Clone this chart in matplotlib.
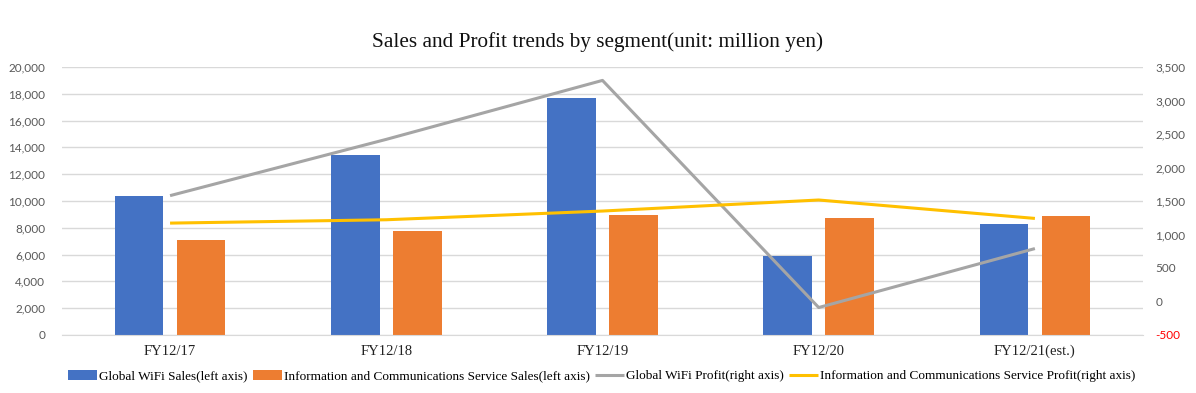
import matplotlib
matplotlib.use("Agg")
import matplotlib.pyplot as plt
import numpy as np
from matplotlib.ticker import FuncFormatter

categories = ["FY12/17", "FY12/18", "FY12/19", "FY12/20", "FY12/21(est.)"]
wifi_sales = [10400, 13450, 17700, 5900, 8300]
ics_sales = [7100, 7760, 8950, 8700, 8880]
wifi_profit = [1580, 2420, 3300, -90, 790]
ics_profit = [1170, 1220, 1350, 1515, 1240]

BLUE, ORANGE, GRAY, YELLOW = "#4472C4", "#ED7D31", "#A5A5A5", "#FFC000"
SERIF = ["Liberation Serif", "DejaVu Serif"]
TICK_FONT = ["Lato", "DejaVu Sans"]

fig = plt.figure(figsize=(11.96, 3.93), dpi=100)
ax = fig.add_axes([0.0518, 0.1476, 0.9039, 0.6819])
ax2 = ax.twinx()

x = np.arange(len(categories))
w = 0.225
ax.bar(x - 0.143, wifi_sales, w, color=BLUE, label="Global WiFi Sales(left axis)", zorder=2)
ax.bar(x + 0.143, ics_sales, w, color=ORANGE,
       label="Information and Communications Service Sales(left axis)", zorder=2)
ax2.plot(x, wifi_profit, color=GRAY, lw=2.2, label="Global WiFi Profit(right axis)", solid_capstyle="butt")
ax2.plot(x, ics_profit, color=YELLOW, lw=2.2,
         label="Information and Communications Service Profit(right axis)", solid_capstyle="butt")

ax.set_xlim(-0.5, len(categories) - 0.5)
ax.set_ylim(0, 20000)
ax.set_yticks(range(0, 20001, 2000))
ax2.set_ylim(-500, 3500)
ax2.set_yticks(range(-500, 3501, 500))
ax.yaxis.set_major_formatter(FuncFormatter(lambda v, p: f"{int(v):,}"))
ax2.yaxis.set_major_formatter(FuncFormatter(lambda v, p: f"{int(v):,}"))

ax.grid(axis="y", color="#D9D9D9", lw=1, zorder=0)
ax.set_axisbelow(True)
for a in (ax, ax2):
    for s in a.spines.values():
        s.set_visible(False)
    a.tick_params(length=0)
ax.spines["bottom"].set_visible(True)
ax.spines["bottom"].set_color("#D9D9D9")

ax.set_xticks(x)
ax.set_xticklabels(categories, family=SERIF, fontsize=10.5, color="#222222")
ax.tick_params(axis="x", pad=7)
for lbl in ax.get_yticklabels():
    lbl.set_family(TICK_FONT); lbl.set_fontsize(8.5); lbl.set_color("#595959")
ax.tick_params(axis="y", pad=12)
for lbl in ax2.get_yticklabels():
    lbl.set_family(TICK_FONT); lbl.set_fontsize(8.5); lbl.set_color("#595959")
ax2.get_yticklabels()[0].set_color("red")
ax2.tick_params(axis="y", pad=9)

fig.suptitle("Sales and Profit trends by segment(unit: million yen)", family=SERIF,
             fontsize=15.3, y=0.893, va="center", color="#111111")

h1, l1 = ax.get_legend_handles_labels()
h2, l2 = ax2.get_legend_handles_labels()
fig.legend(h1 + h2, l1 + l2, loc="center", bbox_to_anchor=(0.503, 0.043), ncol=4,
           frameon=False, prop={"family": SERIF, "size": 9.5}, handlelength=2.2,
           handleheight=0.8, handletextpad=0.15, columnspacing=0.4)

fig.savefig("out.png", dpi=100)
